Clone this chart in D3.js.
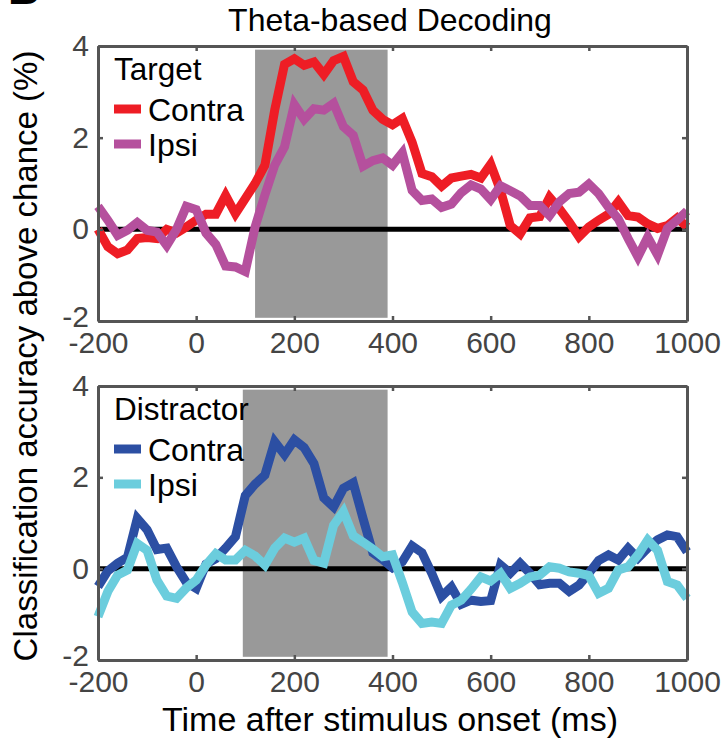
<!DOCTYPE html>
<html>
<head>
<meta charset="utf-8">
<script src="https://cdn.jsdelivr.net/npm/d3@7"></script>
<style>
  body { margin: 0; background: #fff; }
  svg text { font-family: "Liberation Sans", Arial, Helvetica, sans-serif; }
</style>
</head>
<body>
<svg id="chart" width="725" height="743"></svg>
<script>
// time points (ms after stimulus onset)
const times = [
  -200, -180, -160, -140, -120, -100, -80, -60, -40, -20,
  0, 20, 40, 60, 80, 100, 120, 140, 160, 180,
  200, 220, 240, 260, 280, 300, 320, 340, 360, 380,
  400, 420, 440, 460, 480, 500, 520, 540, 560, 580,
  600, 620, 640, 660, 680, 700, 720, 740, 760, 780,
  800, 820, 840, 860, 880, 900, 920, 940, 960, 980,
  1000
];

// Target decoding
const targetContra = [
  0.0, -0.38, -0.53, -0.45, -0.2, -0.18, -0.2, 0.0, -0.08, 0.05,
  0.2, 0.33, 0.33, 0.74, 0.34, 0.67, 1.0, 1.4, 2.6, 3.6,
  3.72, 3.58, 3.65, 3.38, 3.68, 3.77, 3.22, 3.04, 2.6, 2.4,
  2.28, 2.42, 1.9, 1.22, 1.15, 0.94, 1.12, 1.16, 1.2, 1.12,
  1.42, 0.85, 0.08, -0.1, 0.25, 0.28, 0.7, 0.45, 0.16, -0.16,
  0.05, 0.2, 0.33, 0.6, 0.3, 0.27, 0.12, 0.02, 0.08, 0.25,
  0.05
];
const targetIpsi = [
  0.5, 0.2, -0.13, -0.02, 0.15, -0.02, -0.06, -0.35, 0.0, 0.5,
  0.43, -0.08, -0.33, -0.8, -0.82, -0.92, 0.05, 0.75, 1.4, 1.8,
  2.72, 2.4, 2.63, 2.6, 2.75, 2.24, 2.05, 1.38, 1.5, 1.56,
  1.4, 1.67, 0.85, 0.63, 0.66, 0.48, 0.55, 0.8, 0.97, 0.88,
  0.65, 0.95, 0.84, 0.73, 0.52, 0.52, 0.3, 0.6, 0.78, 0.81,
  0.99, 0.78, 0.48, 0.23, -0.2, -0.6, -0.17, -0.56, 0.02, 0.2,
  0.4
];

// Distractor decoding
const distContra = [
  -0.39, -0.05, 0.12, 0.25, 1.1, 0.85, 0.42, 0.45, 0.04, -0.3,
  -0.43, 0.1, 0.22, 0.45, 0.7, 1.6, 1.85, 2.05, 2.78, 2.5,
  2.82, 2.65, 2.3, 1.55, 1.35, 1.76, 1.88, 1.1, 0.35, 0.2,
  0.02, 0.15, 0.5, 0.35, -0.1, -0.61, -0.4, -0.78, -0.69, -0.72,
  -0.7, 0.08, -0.1, 0.12, -0.1, -0.35, -0.32, -0.32, -0.5, -0.36,
  -0.1, 0.18, 0.3, 0.19, 0.45, 0.23, 0.45, 0.63, 0.74, 0.7,
  0.37
];
const distIpsi = [
  -1.05, -0.5, -0.14, -0.03, 0.55, 0.4, -0.25, -0.6, -0.65, -0.42,
  -0.25, 0.08, 0.33, 0.19, 0.19, 0.4, 0.28, 0.08, 0.45, 0.67,
  0.58, 0.67, 0.18, 0.12, 0.95, 1.25, 0.72, 0.58, 0.43, 0.26,
  0.3, -0.3, -0.95, -1.2, -1.17, -1.2, -0.8, -0.69, -0.45, -0.18,
  -0.27, -0.1, -0.43, -0.32, -0.18, -0.14, 0.04, 0.01, -0.07, -0.1,
  -0.15, -0.54, -0.43, -0.03, 0.04, 0.3, 0.63, 0.4, -0.28, -0.36,
  -0.65
];

const seriesNames = ["Contra", "Ipsi"];
const targetColors = ["#ee1d25", "#b5509d"];
const distColors = ["#2c4fa3", "#6bcddd"];

// grey analysis window (ms) and its vertical extent
const targetWindow = [120, 390];
const distWindow = [95, 390];
const windowY = [-1.93, 3.92];

const xTicks = [-200, 0, 200, 400, 600, 800, 1000];
const yTicks = [-2, 0, 2, 4];

const svg = d3.select("#chart");
const x = d3.scaleLinear().domain([-200, 1000]).range([98, 687]);

function drawPanel(top, bottom, win, data, colors, title) {
  const y = d3.scaleLinear().domain([-2, 4]).range([bottom, top]);
  const g = svg.append("g");

  g.append("rect")
    .attr("x", x(win[0]))
    .attr("width", x(win[1]) - x(win[0]))
    .attr("y", y(windowY[1]))
    .attr("height", y(windowY[0]) - y(windowY[1]))
    .attr("fill", "#999999");

  // chance level
  g.append("line")
    .attr("x1", x(-200)).attr("x2", x(1000))
    .attr("y1", y(0)).attr("y2", y(0))
    .attr("stroke", "#000")
    .attr("stroke-width", 5);

  const line = d3.line()
    .x((d, i) => x(times[i]))
    .y((d) => y(d));

  g.selectAll("path.series")
    .data(data)
    .join("path")
    .attr("class", "series")
    .attr("d", line)
    .attr("fill", "none")
    .attr("stroke", (d, i) => colors[i])
    .attr("stroke-width", 9)
    .attr("stroke-linejoin", "miter");

  const fmt = (d) => String(d);
  const bottomAx = g.append("g").attr("transform", `translate(0,${bottom})`)
    .call(d3.axisBottom(x).tickValues(xTicks).tickSize(-5).tickSizeOuter(0).tickPadding(11).tickFormat(fmt));
  const topAx = g.append("g").attr("transform", `translate(0,${top})`)
    .call(d3.axisTop(x).tickValues(xTicks).tickSize(-5).tickSizeOuter(0).tickFormat(""));
  const leftAx = g.append("g").attr("transform", `translate(${x(-200)},0)`)
    .call(d3.axisLeft(y).tickValues(yTicks).tickSize(-5).tickSizeOuter(0).tickPadding(9).tickFormat(fmt));
  const rightAx = g.append("g").attr("transform", `translate(${x(1000)},0)`)
    .call(d3.axisRight(y).tickValues(yTicks).tickSize(-5).tickSizeOuter(0).tickFormat(""));

  [bottomAx, topAx, leftAx, rightAx].forEach((ax) => {
    ax.select(".domain").attr("stroke", "#555").attr("stroke-width", 3);
    ax.selectAll(".tick line").attr("stroke", "#555").attr("stroke-width", 2.5);
    ax.selectAll(".tick text")
      .attr("fill", "#444")
      .style("font-size", "30px")
      .style("font-family", '"Liberation Sans", Arial, sans-serif');
  });
  // the -2 label sits a little above the bottom edge in the original
  leftAx.selectAll(".tick text").filter((d) => d === -2).attr("y", -4);

  // legend
  const lg = g.append("g").attr("transform", `translate(114,${top})`);
  lg.append("text")
    .attr("x", 0).attr("y", 34)
    .style("font-size", "31.5px")
    .text(title);
  const items = lg.selectAll("g.item")
    .data(seriesNames)
    .join("g")
    .attr("class", "item")
    .attr("transform", (d, i) => `translate(0,${63 + i * 35})`);
  items.append("line")
    .attr("x1", 0).attr("x2", 27)
    .attr("stroke", (d, i) => colors[i])
    .attr("stroke-width", 9);
  items.append("text")
    .attr("x", 34).attr("dy", "0.36em")
    .style("font-size", "32px")
    .text((d) => d);
}

drawPanel(46, 321, targetWindow, [targetContra, targetIpsi], targetColors, "Target");
drawPanel(386, 660, distWindow, [distContra, distIpsi], distColors, "Distractor");

// panel letter, mostly cut off at the top edge
svg.append("text")
  .attr("x", 8).attr("y", 4)
  .style("font-size", "44px")
  .style("font-weight", "bold")
  .text("B");

svg.append("text")
  .attr("x", 390).attr("y", 31)
  .attr("text-anchor", "middle")
  .style("font-size", "32px")
  .text("Theta-based Decoding");

svg.append("text")
  .attr("x", 390).attr("y", 731)
  .attr("text-anchor", "middle")
  .style("font-size", "34px")
  .text("Time after stimulus onset (ms)");

svg.append("text")
  .attr("transform", "translate(37,356) rotate(-90)")
  .attr("text-anchor", "middle")
  .style("font-size", "33px")
  .text("Classification accuracy above chance (%)");
</script>
</body>
</html>
